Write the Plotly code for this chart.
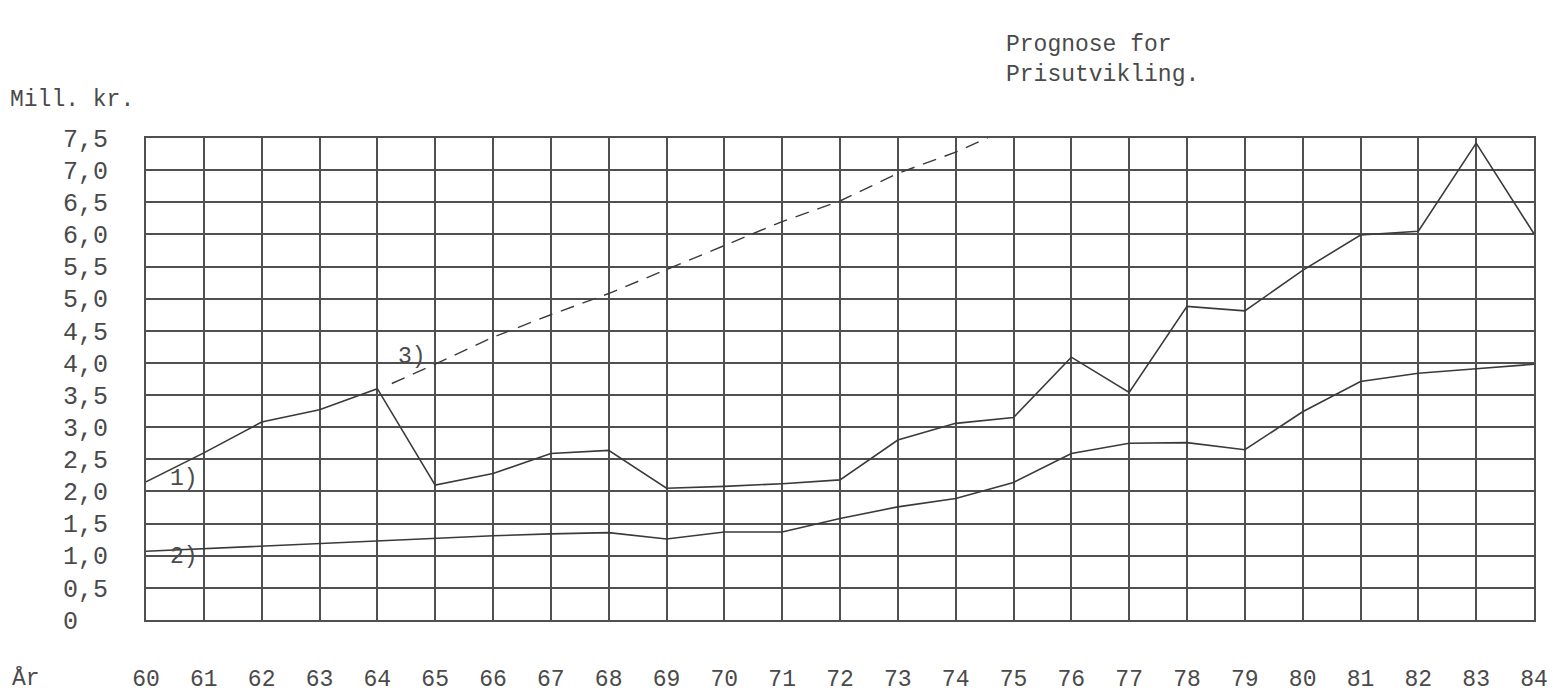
import plotly.graph_objects as go

years = list(range(60, 85))
year_labels = [str(y) for y in years]

# 1) upper solid series (Mill. kr.)
series1 = [2.15, 2.60, 3.08, 3.27, 3.60, 2.10, 2.28, 2.59, 2.64, 2.05, 2.08, 2.12, 2.18,
           2.80, 3.06, 3.15, 4.09, 3.54, 4.88, 4.81, 5.44, 5.99, 6.05, 7.42, 6.01]
# 2) lower solid series
series2 = [1.07, 1.11, 1.15, 1.20, 1.24, 1.28, 1.31, 1.34, 1.36, 1.26, 1.37, 1.37, 1.58,
           1.76, 1.89, 2.14, 2.59, 2.75, 2.76, 2.65, 3.24, 3.71, 3.84, 3.91, 3.98]
# 3) dashed price-development forecast
years3 = [64.25, 65, 66, 67, 68, 69, 70, 71, 72, 73, 74, 74.55]
series3 = [3.68, 3.98, 4.40, 4.75, 5.08, 5.45, 5.83, 6.20, 6.52, 6.95, 7.28, 7.50]

ytick_vals = [0, 0.5, 1, 1.5, 2, 2.5, 3, 3.5, 4, 4.5, 5, 5.5, 6, 6.5, 7, 7.5]
ytick_text = ["0\u00a0\u00a0", "0,5", "1,0", "1,5", "2,0", "2,5", "3,0", "3,5",
              "4,0", "4,5", "5,0", "5,5", "6,0", "6,5", "7,0", "7,5"]

FONT = "Liberation Mono"
INK = "#4a4a4a"
LINE = "#3a3a3a"

W, H = 1553, 696
L, R, T, B = 146, 19, 138, 76
PW, PH = W - L - R, H - T - B


def px(x):
    return (x - L) / PW


def py(y):
    return (H - B - y) / PH


fig = go.Figure()
fig.add_trace(go.Scatter(x=years, y=series1, mode="lines",
                         line=dict(color=LINE, width=1.6), showlegend=False))
fig.add_trace(go.Scatter(x=years, y=series2, mode="lines",
                         line=dict(color=LINE, width=1.6), showlegend=False))
fig.add_trace(go.Scatter(x=years3, y=series3, mode="lines",
                         line=dict(color=LINE, width=1.4, dash="14px,9px"), showlegend=False))

ann_font = dict(family=FONT, size=23, color=INK)
annotations = [
    dict(x=60.65, y=2.2, xref="x", yref="y", text="1)", showarrow=False, font=ann_font),
    dict(x=60.65, y=0.98, xref="x", yref="y", text="2)", showarrow=False, font=ann_font),
    dict(x=64.6, y=4.1, xref="x", yref="y", text="3)", showarrow=False, font=ann_font),
    dict(x=px(8), y=py(100), xref="paper", yref="paper", xanchor="left",
         yanchor="middle", text="Mill. kr.", showarrow=False, font=ann_font),
    dict(x=px(1004), y=py(60), xref="paper", yref="paper", xanchor="left",
         yanchor="middle", text="Prognose for<br>Prisutvikling.", align="left",
         showarrow=False, font=ann_font),
    dict(x=px(10), y=py(678), xref="paper", yref="paper", xanchor="left",
         yanchor="middle", text="År", showarrow=False, font=ann_font),
]

fig.update_layout(
    width=W, height=H,
    margin=dict(l=L, r=R, t=T, b=B),
    paper_bgcolor="white", plot_bgcolor="white",
    annotations=annotations,
    xaxis=dict(range=[60, 84], tickmode="array", tickvals=years, ticktext=year_labels,
               automargin=False,
               showgrid=True, gridcolor="#505050", gridwidth=2,
               showline=True, linecolor="#505050", linewidth=2, mirror=True,
               zeroline=False, ticks="outside", ticklen=36, tickcolor="rgba(0,0,0,0)",
               tickfont=dict(family=FONT, size=23, color=INK)),
    yaxis=dict(range=[0, 7.5], tickmode="array", tickvals=ytick_vals, ticktext=ytick_text,
               automargin=False,
               showgrid=True, gridcolor="#505050", gridwidth=2,
               showline=True, linecolor="#505050", linewidth=2, mirror=True,
               zeroline=False, ticks="outside", ticklen=31, tickcolor="rgba(0,0,0,0)",
               tickfont=dict(family=FONT, size=25, color=INK)),
)

fig.write_html("out.html", config={"displayModeBar": False})

# remove the default page margin so the figure sits at the window origin
with open("out.html", "r", encoding="utf-8") as f:
    html = f.read()
html = html.replace("<head>", "<head><style>html,body{margin:0;padding:0;overflow:hidden;}</style>", 1)
with open("out.html", "w", encoding="utf-8") as f:
    f.write(html)
